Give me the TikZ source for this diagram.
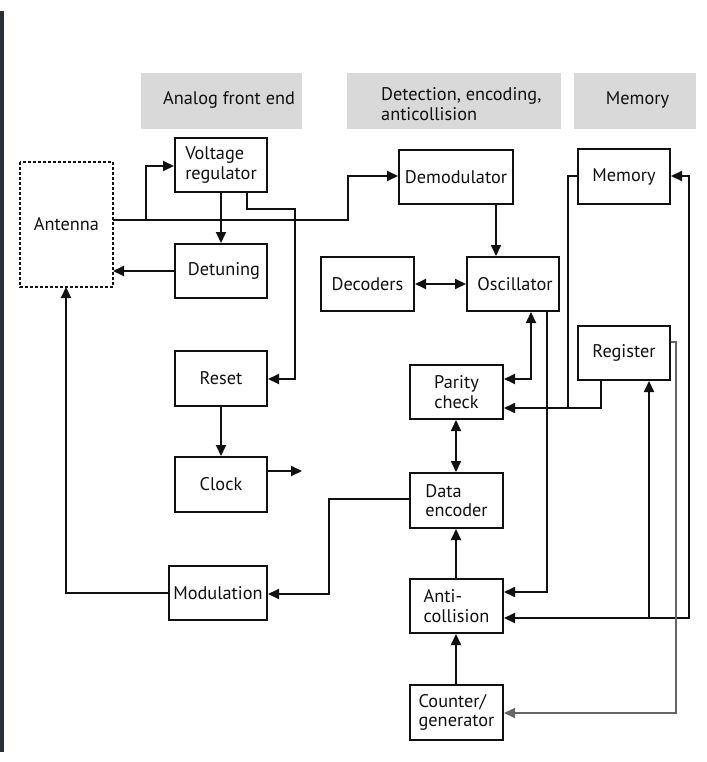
\documentclass[tikz,border=0pt]{standalone}
\usepackage{fontspec}
\setmainfont{PT Sans}
\usetikzlibrary{arrows.meta}
\definecolor{hdr}{HTML}{D9D9D9}
\definecolor{ink}{HTML}{111111}
\definecolor{barc}{HTML}{2B3036}
\begin{document}
\begin{tikzpicture}[x=1pt,y=-1pt,
  txt/.style={font=\fontsize{18.3}{19.5}\selectfont,text=ink},
  box/.style={draw=ink,line width=2pt,fill=white,inner sep=1pt,txt},
  hdrbox/.style={fill=hdr,inner sep=0pt},
  conn/.style={draw=ink,line width=2pt},
  arr/.style={conn,-{Triangle[length=11pt,width=10pt]}},
  darr/.style={conn,{Triangle[length=11pt,width=10pt]}-{Triangle[length=11pt,width=10pt]}}]
\useasboundingbox (0,0) rectangle (706,762);
\fill[white] (0,0) rectangle (706,762);
\fill[barc] (0,11) rectangle (3.5,752);
% headers
\node[hdrbox,minimum width=161pt,minimum height=56pt] (h1) at (221.5,101) {};
\node[hdrbox,minimum width=214pt,minimum height=56pt] (h2) at (454,101) {};
\node[hdrbox,minimum width=122pt,minimum height=56pt] (h3) at (635,101) {};
\node[txt,anchor=west,inner sep=0pt] (t1) at (163,100) {Analog front end};
\node[txt,anchor=west,inner sep=0pt,align=left] (t2) at (381,104) {Detection, encoding,\\anticollision};
\node[txt,inner sep=0pt] (t3) at (637.5,100) {Memory};
% boxes
\node[box,draw=none,fill=none,minimum width=91pt,minimum height=123pt] (ant) at (66.5,224.5) {Antenna};
\draw[ink,line width=1.8pt,dash pattern=on 3pt off 2pt] (ant.north west) rectangle (ant.south east);
\node[box,minimum width=92pt,minimum height=54pt,align=left] (vr) at (221,165) {Voltage\\regulator};
\node[box,minimum width=92pt,minimum height=54pt] (det) at (221,271) {\hspace*{6pt}Detuning};
\node[box,minimum width=92pt,minimum height=55pt] (reset) at (221,378.5) {Reset};
\node[box,minimum width=92pt,minimum height=55pt] (clock) at (221,484.5) {Clock};
\node[box,minimum width=98pt,minimum height=54pt,inner sep=0pt] (mod) at (218,593) {Modulation};
\node[box,minimum width=114pt,minimum height=54pt] (dem) at (456,177) {Demodulator};
\node[box,minimum width=92pt,minimum height=55pt] (mem) at (624,176.5) {Memory};
\node[box,minimum width=93pt,minimum height=54pt] (dec) at (367.5,284) {Decoders};
\node[box,minimum width=92pt,minimum height=54pt] (osc) at (513,284) {\hspace*{4pt}Oscillator};
\node[box,minimum width=92pt,minimum height=54pt] (reg) at (624,353) {Register};
\node[box,minimum width=93pt,minimum height=54pt,align=center] (par) at (456.5,392) {Parity\\check};
\node[box,minimum width=93pt,minimum height=55pt,align=left] (enc) at (456.5,500.5) {Data\\encoder};
\node[box,minimum width=93pt,minimum height=54pt,align=left] (anti) at (456.5,606) {Anti-\\collision};
\node[box,minimum width=93pt,minimum height=55pt,align=left] (cnt) at (456.5,712.5) {Counter/\\generator};
% connectors
\draw[arr] (ant.east |- 0,220) -- (348,220) |- (dem.west |- 0,176);
\draw[arr] (146,220) |- (vr.west |- 0,166);
\draw[arr] (vr.south) -- (det.north);
\draw[arr] (vr.south -| 247,0) |- (295,209) |- (reset.east |- 0,379);
\draw[arr] (det.west) -- (det.west -| ant.east);
\draw[arr] (reset.south) -- (clock.north);
\coordinate (clkout) at (302,471);
\draw[arr] (clock.east |- clkout) -- (clkout);
\draw[arr] (mod.west) -| (ant.south -| 66,0);
\draw[arr] (enc.west |- 0,499) -- (329,499) |- (mod.east |- 0,594);
\draw[arr] (dem.south -| 496,0) -- (osc.north -| 496,0);
\draw[darr] (dec.east) -- (osc.west);
\draw[darr] (osc.south -| 531,0) |- (par.east |- 0,379);
\draw[arr] (osc.south -| 547,0) |- (anti.east |- 0,592);
\draw[darr] (par.south -| 456,0) -- (enc.north -| 456,0);
\draw[arr] (anti.north -| 456,0) -- (enc.south -| 456,0);
\draw[arr] (cnt.north -| 456,0) -- (anti.south -| 456,0);
\draw[arr] (reg.south -| 601,0) |- (par.east |- 0,408);
\draw[conn] (mem.west |- 0,176) -| (568,408);
\draw[darr] (anti.east |- 0,618) -| (689,300) |- (mem.east |- 0,176);
\draw[arr] (649,618) -- (reg.south -| 649,0);
\draw[arr,draw=black!60,line width=1.6pt] (reg.east |- 0,342) -| (676,713) -- (cnt.east |- 0,713);
\end{tikzpicture}
\end{document}
